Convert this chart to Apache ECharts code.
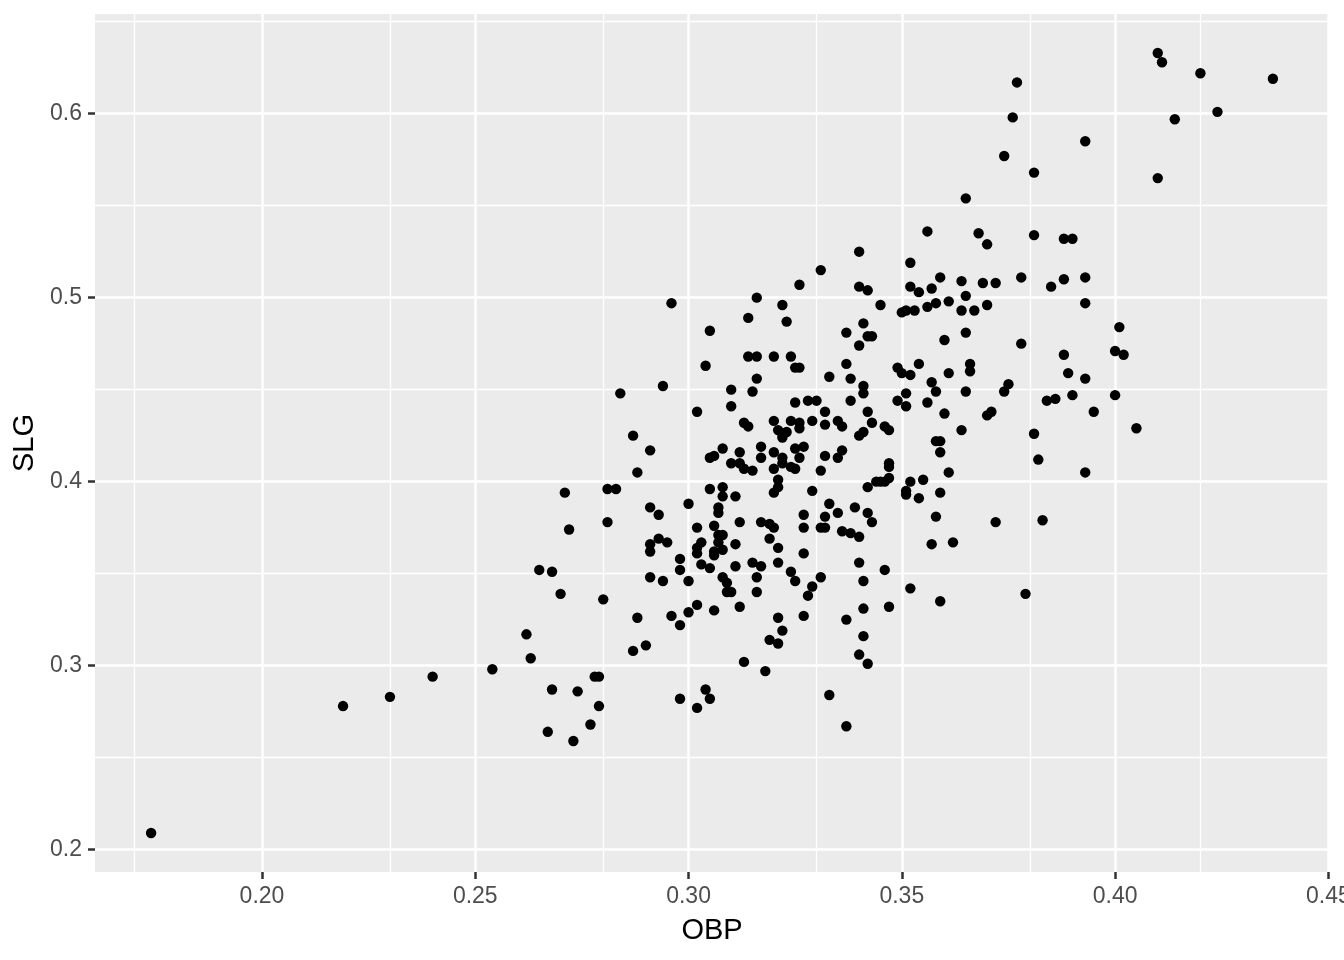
<!DOCTYPE html>
<html>
<head>
<meta charset="utf-8">
<script src="https://cdn.jsdelivr.net/npm/echarts@6/dist/echarts.min.js"></script>
<style>
html,body{margin:0;padding:0;background:#fff;}
#chart{width:1344px;height:960px;}
</style>
</head>
<body>
<div id="chart"></div>
<script>
const obp = [
.174,.219,.230,.240,.254,.287,.291,.288,.271,.281,.283,.291,.293,.281,.272,.293,.291,.291,.295,.265,
.268,.291,.294,.270,.280,.288,.262,.290,.287,.263,.278,.279,.268,.274,.279,.277,.267,.273,.284,.294,
.298,.300,.308,.309,.309,.310,.316,.316,.325,.329,.328,.331,.302,.300,.296,.306,.312,.298,.321,.327,
.322,.319,.321,.313,.318,.304,.298,.305,.302,.333,.305,.311,.317,.315,.324,.346,.341,.352,.359,.341,
.347,.337,.341,.340,.342,.337,.379,.302,.310,.325,.328,.330,.332,.313,.314,.320,.324,.326,.326,.329,
.332,.321,.322,.323,.322,.308,.305,.306,.312,.317,.317,.320,.325,.327,.326,.332,.310,.312,.313,.315,
.322,.322,.324,.325,.320,.331,.321,.321,.320,.305,.308,.308,.311,.300,.307,.307,.312,.317,.319,.320,
.302,.306,.327,.327,.329,.332,.331,.332,.333,.307,.308,.307,.303,.302,.302,.306,.308,.306,.311,.319,
.321,.321,.327,.298,.303,.331,.326,.296,.316,.322,.314,.323,.305,.314,.316,.320,.324,.304,.325,.326,
.316,.333,.310,.315,.356,.368,.370,.340,.352,.340,.342,.352,.354,.357,.359,.364,.369,.372,.365,.345,
.350,.351,.353,.356,.358,.361,.364,.367,.370,.341,.337,.342,.343,.340,.360,.365,.337,.338,.341,.341,
.349,.350,.352,.354,.361,.366,.366,.357,.358,.351,.365,.338,.349,.356,.381,.388,.390,.378,.385,.388,
.393,.393,.401,.378,.388,.400,.402,.389,.393,.375,.374,.384,.386,.390,.400,.351,.360,.370,.371,.342,
.335,.336,.343,.340,.341,.346,.347,.364,.358,.359,.359,.336,.335,.347,.347,.344,.345,.346,.347,.342,
.352,.355,.351,.351,.354,.359,.361,.335,.339,.342,.343,.336,.338,.340,.358,.372,.357,.362,.340,.395,
.405,.381,.382,.393,.383,.410,.411,.420,.437,.377,.376,.424,.414,.393,.374,.381,.410,.365
];
const slg = [
.209,.278,.283,.294,.298,.425,.417,.405,.394,.396,.396,.386,.382,.378,.374,.369,.366,.362,.367,.352,
.351,.348,.346,.339,.336,.326,.317,.311,.308,.304,.294,.294,.287,.286,.278,.268,.264,.259,.448,.452,
.352,.346,.348,.345,.340,.340,.348,.340,.346,.343,.338,.348,.333,.329,.327,.330,.332,.322,.326,.327,
.319,.314,.312,.302,.297,.287,.282,.282,.277,.284,.353,.354,.354,.356,.351,.352,.346,.342,.335,.331,
.332,.325,.316,.306,.301,.267,.339,.438,.441,.443,.444,.444,.438,.432,.430,.433,.433,.432,.429,.433,
.431,.428,.426,.427,.424,.418,.413,.414,.416,.419,.413,.416,.418,.419,.413,.414,.410,.410,.407,.406,
.413,.410,.408,.407,.407,.406,.401,.397,.394,.396,.397,.392,.392,.388,.386,.383,.378,.378,.377,.375,
.375,.376,.382,.375,.395,.381,.375,.375,.388,.371,.371,.367,.367,.364,.361,.362,.363,.360,.366,.369,
.364,.356,.361,.358,.355,.515,.507,.497,.500,.496,.489,.487,.482,.468,.468,.468,.468,.463,.462,.462,
.456,.457,.450,.449,.536,.535,.529,.525,.519,.506,.504,.506,.503,.505,.511,.509,.508,.508,.501,.496,
.492,.493,.493,.495,.497,.498,.493,.493,.496,.486,.481,.479,.479,.474,.477,.481,.464,.456,.452,.448,
.462,.459,.458,.464,.459,.464,.460,.454,.449,.448,.449,.444,.444,.443,.534,.532,.532,.511,.506,.510,
.511,.497,.484,.475,.469,.471,.469,.459,.456,.453,.449,.444,.445,.447,.447,.441,.437,.436,.438,.438,
.433,.430,.432,.425,.427,.430,.428,.428,.422,.422,.416,.417,.413,.410,.408,.400,.400,.400,.402,.397,
.400,.401,.395,.393,.391,.394,.405,.383,.386,.383,.378,.373,.372,.370,.381,.378,.366,.367,.356,.438,
.429,.426,.412,.405,.379,.633,.628,.622,.619,.617,.598,.601,.597,.585,.577,.568,.565,.554
];
const xTicks = [0.20, 0.25, 0.30, 0.35, 0.40, 0.45];
const xTickLabels = ['0.20', '0.25', '0.30', '0.35', '0.40', '0.45'];
const xMinor = [0.175, 0.225, 0.275, 0.325, 0.375, 0.425];
const yTicks = [0.2, 0.3, 0.4, 0.5, 0.6];
const yTickLabels = ['0.2', '0.3', '0.4', '0.5', '0.6'];
const yMinor = [0.25, 0.35, 0.45, 0.55, 0.65];

const points = obp.map((v, i) => [v, slg[i]]);

function expand(arr) {
  const lo = Math.min(...arr), hi = Math.max(...arr);
  const pad = (hi - lo) * 0.05;
  return [lo - pad, hi + pad];
}
const xr = expand(obp), yr = expand(slg);

function lbl(ticks, labels) {
  return function (v) {
    for (let i = 0; i < ticks.length; i++) if (Math.abs(ticks[i] - v) < 1e-9) return labels[i];
    return '';
  };
}

const FONT = "'Liberation Sans', Arial, sans-serif";
const gridLines = [];
xMinor.forEach(v => gridLines.push({ xAxis: v, lineStyle: { color: '#FFFFFF', width: 1.3, type: 'solid' } }));
yMinor.forEach(v => gridLines.push({ yAxis: v, lineStyle: { color: '#FFFFFF', width: 1.3, type: 'solid' } }));
xTicks.forEach(v => gridLines.push({ xAxis: v, lineStyle: { color: '#FFFFFF', width: 2.5, type: 'solid' } }));
yTicks.forEach(v => gridLines.push({ yAxis: v, lineStyle: { color: '#FFFFFF', width: 2.5, type: 'solid' } }));

const chart = echarts.init(document.getElementById('chart'), null, { renderer: 'canvas' });
chart.setOption({
  animation: false,
  backgroundColor: '#FFFFFF',
  grid: { left: 95, right: 15, top: 14, bottom: 88, show: true, backgroundColor: '#EBEBEB', borderWidth: 0, outerBoundsMode: 'none', containLabel: false },
  xAxis: {
    type: 'value', min: xr[0], max: xr[1],
    name: 'OBP', nameLocation: 'middle', nameGap: 44,
    nameTextStyle: { fontFamily: FONT, fontSize: 29, color: '#000000' },
    axisLine: { show: false },
    axisTick: { show: true, customValues: xTicks, length: 7, lineStyle: { color: '#333333', width: 2.5 } },
    axisLabel: { customValues: xTicks, formatter: lbl(xTicks, xTickLabels), fontFamily: FONT, fontSize: 23, color: '#4D4D4D', margin: 13, hideOverlap: false },
    splitLine: { show: false }
  },
  yAxis: {
    type: 'value', min: yr[0], max: yr[1],
    name: 'SLG', nameLocation: 'middle', nameGap: 49, nameRotate: 90,
    nameTextStyle: { fontFamily: FONT, fontSize: 29, color: '#000000' },
    axisLine: { show: false },
    axisTick: { show: true, customValues: yTicks, length: 7, lineStyle: { color: '#333333', width: 2.5 } },
    axisLabel: { customValues: yTicks, formatter: lbl(yTicks, yTickLabels), fontFamily: FONT, fontSize: 23, color: '#4D4D4D', margin: 13 },
    splitLine: { show: false }
  },
  series: [
    {
      type: 'scatter', data: [], z: 1, silent: true,
      markLine: { silent: true, symbol: ['none', 'none'], label: { show: false }, animation: false, data: gridLines }
    },
    {
      type: 'scatter', data: points, z: 5, symbol: 'circle', symbolSize: 10.4,
      itemStyle: { color: '#000000', opacity: 1 }
    }
  ]
});
</script>
</body>
</html>
